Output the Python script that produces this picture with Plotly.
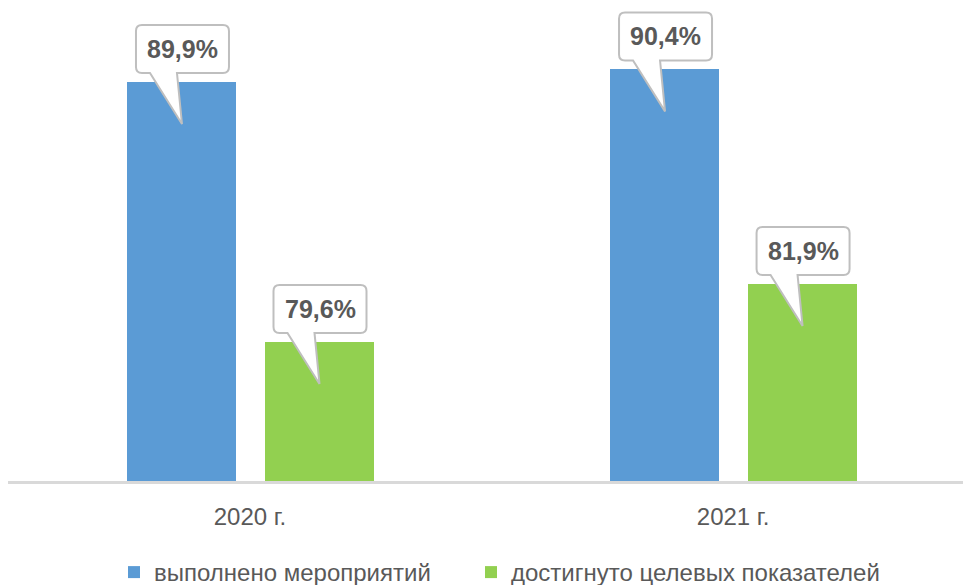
import plotly.graph_objects as go

categories = ["2020 г.", "2021 г."]
series_names = ["выполнено мероприятий", "достигнуто целевых показателей"]
values_done = [89.9, 90.4]
values_target = [79.6, 81.9]

colors = ["#5B9BD5", "#92D050"]
text_color = "#595959"
FONT = "Liberation Sans, Arial, sans-serif"

BAR_W = 0.2257
offsets = [-0.2547, 0.0300]
legend_ids = ["legend", "legend2"]

xpos = list(range(len(categories)))

fig = go.Figure()
for name, vals, col, off, lg in zip(series_names, [values_done, values_target], colors, offsets, legend_ids):
    fig.add_trace(go.Bar(
        x=xpos, y=vals, name=name, marker=dict(color=col, line=dict(width=0)),
        width=BAR_W, offset=off, legend=lg,
    ))

def fmt(v):
    return f"{v:.1f}".replace(".", ",") + "%"

# callout shape in pixel offsets relative to bar top-left corner (y up)
callout_path = ("M 15,57 L 96,57 Q 102,57 102,51 L 102,15 Q 102,9 96,9 "
                "L 50,9 L 55,-42 L 23,9 L 15,9 Q 9,9 9,15 L 9,51 Q 9,57 15,57 Z")

shapes = []
annotations = []
for vals, off in zip([values_done, values_target], offsets):
    for xi, v in zip(xpos, vals):
        shapes.append(dict(
            type="path", xref="x", yref="y", xsizemode="pixel", ysizemode="pixel",
            xanchor=xi + off, yanchor=v, path=callout_path,
            fillcolor="white", line=dict(color="#BFBFBF", width=2), layer="above",
        ))
        annotations.append(dict(
            x=xi + off + BAR_W / 2, y=v, xref="x", yref="y", text=f"<b>{fmt(v)}</b>",
            showarrow=False, xshift=1, yshift=33, xanchor="center", yanchor="middle",
            font=dict(family=FONT, size=25, color=text_color),
        ))

legend_common = dict(
    orientation="h", xref="container", yref="container",
    xanchor="left", y=1 - 550 / 585, yanchor="top",
    font=dict(family=FONT, size=24, color=text_color), bgcolor="rgba(0,0,0,0)",
)

fig.update_layout(
    width=963, height=585,
    margin=dict(l=8, r=0, t=0, b=104, autoexpand=False),
    paper_bgcolor="white", plot_bgcolor="white",
    shapes=shapes, annotations=annotations,
    showlegend=True,
    legend=dict(x=114 / 963, **legend_common),
    legend2=dict(x=471 / 963, **legend_common),
    xaxis=dict(
        range=[-0.501, 1.476], tickvals=xpos, ticktext=categories,
        showgrid=False, zeroline=False, showline=True, linecolor="#D9D9D9", linewidth=3,
        ticks="", ticklabelstandoff=12,
        tickfont=dict(family=FONT, size=24, color=text_color),
    ),
    yaxis=dict(range=[74.09, 93.15], visible=False, showgrid=False, zeroline=False),
    bargap=0, bargroupgap=0,
)

fig.write_html("out.html", config={"displayModeBar": False},
               post_script="document.body.style.margin='0';")
